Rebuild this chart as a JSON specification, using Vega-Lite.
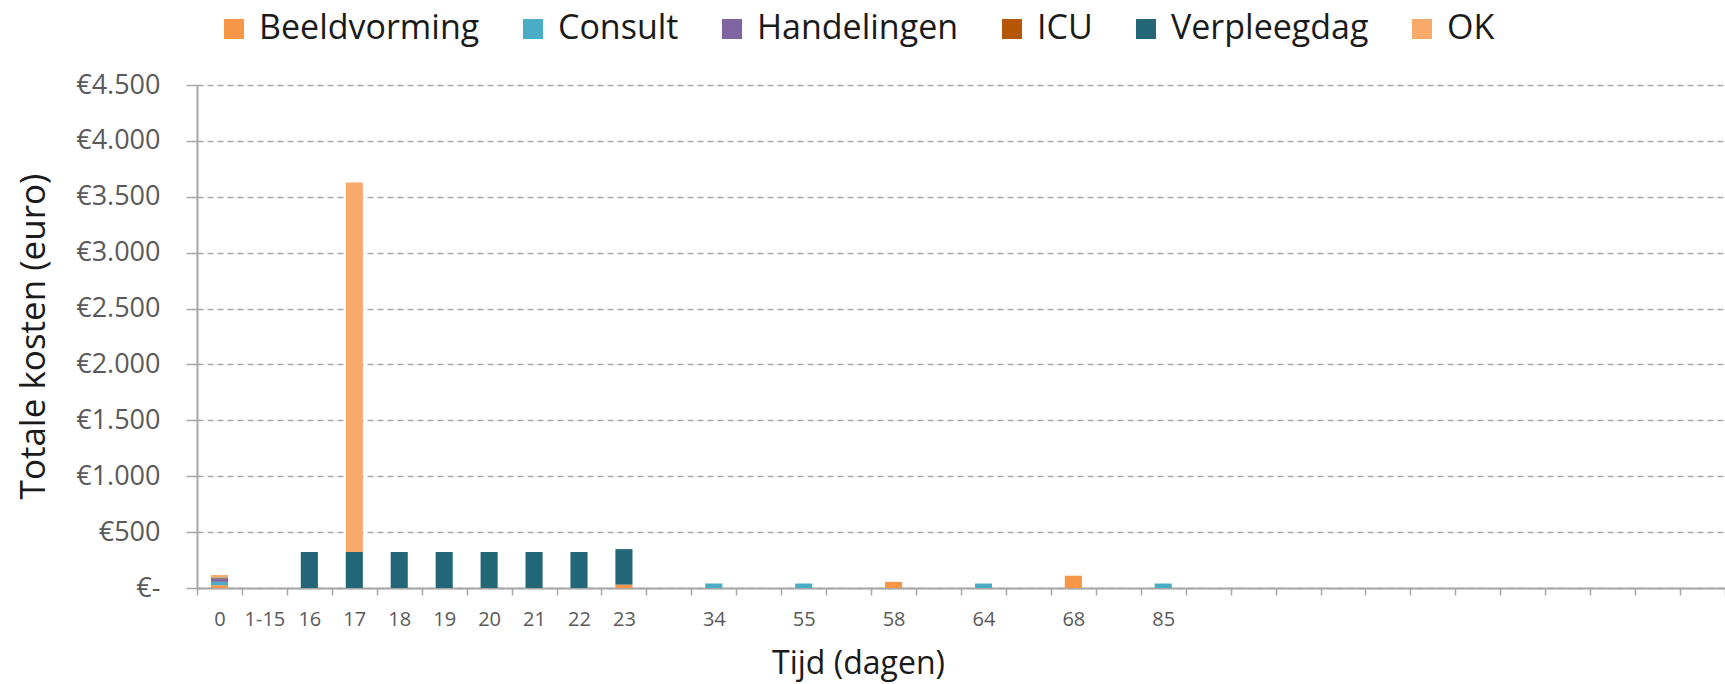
{
  "$schema": "https://vega.github.io/schema/vega-lite/v6.json",
  "width": 1528,
  "height": 503,
  "autosize": "none",
  "padding": {"left": 197, "top": 85, "right": 0, "bottom": 96},
  "background": "white",
  "config": {
    "view": {"stroke": null},
    "font": "Open Sans"
  },
  "data": {
    "values": [
      {"dag": "0", "categorie": "Beeldvorming", "kosten": 25},
      {"dag": "0", "categorie": "Consult", "kosten": 30},
      {"dag": "0", "categorie": "Handelingen", "kosten": 25},
      {"dag": "0", "categorie": "ICU", "kosten": 6},
      {"dag": "0", "categorie": "Verpleegdag", "kosten": 8},
      {"dag": "0", "categorie": "OK", "kosten": 22},
      {"dag": "16", "categorie": "Verpleegdag", "kosten": 322},
      {"dag": "17", "categorie": "Verpleegdag", "kosten": 322},
      {"dag": "17", "categorie": "OK", "kosten": 3305},
      {"dag": "18", "categorie": "Verpleegdag", "kosten": 322},
      {"dag": "19", "categorie": "Verpleegdag", "kosten": 322},
      {"dag": "20", "categorie": "Verpleegdag", "kosten": 322},
      {"dag": "21", "categorie": "Verpleegdag", "kosten": 322},
      {"dag": "22", "categorie": "Verpleegdag", "kosten": 322},
      {"dag": "23", "categorie": "Beeldvorming", "kosten": 30},
      {"dag": "23", "categorie": "Verpleegdag", "kosten": 318},
      {"dag": "34", "categorie": "Consult", "kosten": 40},
      {"dag": "55", "categorie": "Consult", "kosten": 40},
      {"dag": "58", "categorie": "Beeldvorming", "kosten": 55},
      {"dag": "64", "categorie": "Consult", "kosten": 40},
      {"dag": "68", "categorie": "Beeldvorming", "kosten": 110},
      {"dag": "85", "categorie": "Consult", "kosten": 40}
    ]
  },
  "transform": [
    {"calculate": "indexof(['Beeldvorming','Consult','Handelingen','ICU','Verpleegdag','OK'], datum.categorie)", "as": "volgorde"}
  ],
  "mark": {"type": "bar", "width": {"band": 0.38}},
  "encoding": {
    "x": {
      "field": "dag",
      "type": "nominal",
      "scale": {
        "domain": ["0","1-15","16","17","18","19","20","21","22","23","b1","34","b2","55","b3","58","b4","64","b5","68","b6","85","b7","b8","b9","b10","b11","b12","b13","b14","b15","b16","b17","b18"],
        "paddingInner": 0,
        "paddingOuter": 0
      },
      "axis": {
        "title": "Tijd (dagen)",
        "titleFont": "Open Sans",
        "titleFontSize": 32,
        "titleFontWeight": "normal",
        "titleColor": "#1a1a1a",
        "titleX": 661,
        "titleY": 75,
        "titleBaseline": "middle",
        "titleAlign": "center",
        "labelExpr": "test(/^b/, datum.label) ? '' : datum.label",
        "labelAngle": 0,
        "labelFont": "Open Sans",
        "labelFontSize": 20,
        "labelColor": "#595959",
        "labelPadding": 14,
        "tickBand": "extent",
        "tickSize": 7,
        "tickColor": "#A6A6A6",
        "tickWidth": 1.5,
        "domainColor": "#A6A6A6",
        "domainWidth": 2,
        "grid": false
      }
    },
    "y": {
      "field": "kosten",
      "type": "quantitative",
      "stack": "zero",
      "scale": {"domain": [0, 4500], "nice": false},
      "axis": {
        "title": "Totale kosten (euro)",
        "titleFont": "Open Sans",
        "titleFontSize": 35,
        "titleFontWeight": "normal",
        "titleColor": "#1a1a1a",
        "titleX": -164,
        "titleY": 251,
        "titleAngle": -90,
        "titleBaseline": "middle",
        "titleAlign": "center",
        "values": [0, 500, 1000, 1500, 2000, 2500, 3000, 3500, 4000, 4500],
        "labelExpr": "datum.value == 0 ? '€-' : '€' + replace(format(datum.value, ','), ',', '.')",
        "labelFont": "Open Sans",
        "labelFontSize": 27,
        "labelColor": "#595959",
        "labelPadding": 26,
        "tickSize": 11,
        "tickColor": "#A6A6A6",
        "tickWidth": 1.5,
        "domainColor": "#A6A6A6",
        "domainWidth": 2,
        "grid": true,
        "gridColor": "#A6A6A6",
        "gridWidth": 1.5,
        "gridDash": [6, 4]
      }
    },
    "color": {
      "field": "categorie",
      "type": "nominal",
      "scale": {
        "domain": ["Beeldvorming", "Consult", "Handelingen", "ICU", "Verpleegdag", "OK"],
        "range": ["#F79646", "#4BACC6", "#8064A2", "#B65708", "#236677", "#F9A96A"]
      },
      "legend": {
        "title": null,
        "orient": "none",
        "legendX": 20,
        "legendY": -73,
        "direction": "horizontal",
        "columns": 6,
        "symbolType": "square",
        "symbolSize": 400,
        "symbolStrokeWidth": 0,
        "labelFont": "Open Sans",
        "labelFontSize": 34,
        "labelColor": "#1a1a1a",
        "labelOffset": 8,
        "columnPadding": 36,
        "labelLimit": 400
      }
    },
    "order": {"field": "volgorde", "type": "quantitative"}
  }
}
